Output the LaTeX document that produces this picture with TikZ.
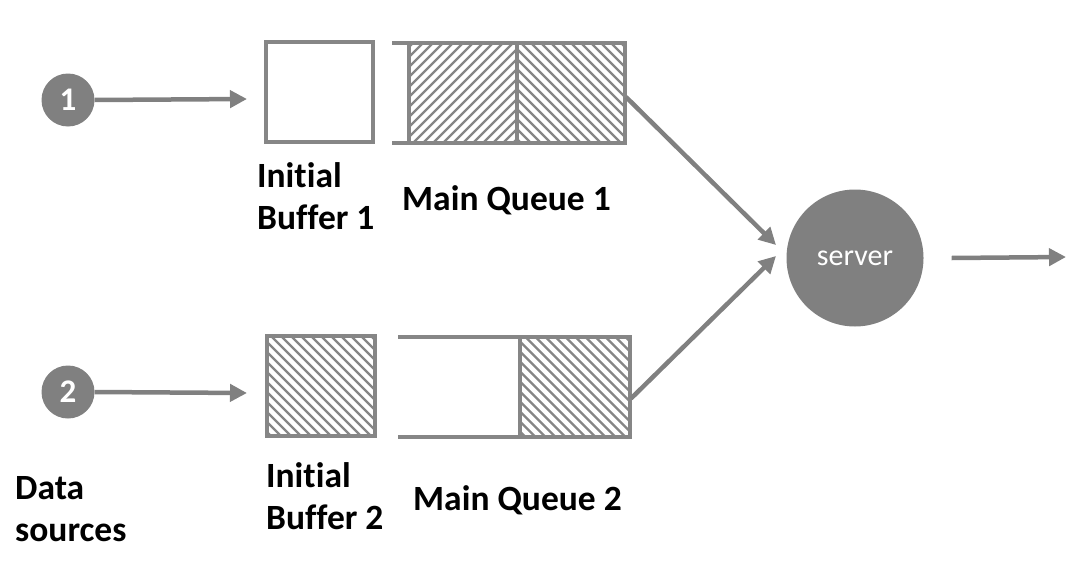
\documentclass[tikz,border=0pt]{standalone}
\usepackage{fontspec}
\setmainfont{Carlito}[Ligatures={NoCommon}]
\usetikzlibrary{arrows.meta,calc}
\definecolor{qgray}{RGB}{128,128,128}
\definecolor{hgray}{RGB}{134,134,134}
\begin{document}
\begin{tikzpicture}[x=1pt,y=-1pt,
  src/.style={circle,fill=qgray,minimum size=53pt,inner sep=0pt,text=white,font=\fontsize{33}{36}\selectfont\bfseries},
  srv/.style={circle,fill=qgray,minimum size=137pt,inner sep=0pt,text=white,font=\fontsize{30}{32}\selectfont},
  conn/.style={draw=qgray,line width=4.5pt,-{Triangle[length=17pt,width=17pt]}},
  boxline/.style={draw=hgray,line width=4pt},
  cell/.style={draw=hgray,line width=4pt,inner sep=0pt,outer sep=0pt,minimum height=100pt},
  hatchline/.style={draw=hgray,line width=2.2pt},
  hatchNE/.style={path picture={\foreach \k in {-16,...,16} \draw[hatchline] ([xshift=\k*10pt]path picture bounding box.center) ++(-90pt,-90pt) -- ++(180pt,180pt);}},
  hatchNW/.style={path picture={\foreach \k in {-16,...,16} \draw[hatchline] ([xshift=\k*10pt]path picture bounding box.center) ++(-90pt,90pt) -- ++(180pt,-180pt);}},
  lbl/.style={inner sep=0pt,anchor=base west,align=left,font=\fontsize{35.5}{42}\selectfont\bfseries}
]
\useasboundingbox (0,0) rectangle (1073,562);

% sources
\node[src] (s1) at (68,100) {1};
\node[src] (s2) at (68,392) {2};

% initial buffers
\node[cell,minimum width=107pt] (ib1) at (319.5,92) {};
\node[cell,minimum width=108pt,hatchNW] (ib2) at (320.5,385.5) {};

% main queue 1
\node[cell,minimum width=108pt,hatchNE] (mq1a) at (463,93) {};
\node[cell,minimum width=108pt,hatchNW] (mq1b) at (571,93) {};
\coordinate (q1tl) at (392,43);
\coordinate (q1bl) at (392,143);
\draw[boxline] (q1tl) -- (mq1a.north west);
\draw[boxline] (q1bl) -- (mq1a.south west);

% main queue 2
\node[cell,minimum width=110pt,hatchNW] (mq2b) at (575,386.5) {};
\coordinate (q2tl) at (398,336.5);
\coordinate (q2bl) at (398,436.5);
\draw[boxline] (q2tl) -- (mq2b.north west);
\draw[boxline] (q2bl) -- (mq2b.south west);

% server
\node[srv] (srv) at (855,258) {server};
\coordinate (out) at (1066,257);

% connectors
\coordinate (a1) at (247,99);
\coordinate (a2) at (247,393);
\draw[conn] (s1.east) -- (a1);
\draw[conn] (s2.east) -- (a2);
\coordinate (m1) at (776,245);
\coordinate (m2) at (776,256);
\draw[conn] ([xshift=1pt,yshift=-4pt]mq1b.east) -- (m1);
\draw[conn] ([xshift=1pt,yshift=-12pt]mq2b.east) -- (m2);
\draw[conn] ([xshift=28pt]srv.east) -- (out);

% labels
\node[lbl] (lib1) at (257,229) {Init\kern0pt ial\\Buffer 1};
\node[lbl] (lmq1) at (402,210) {Main Queue 1};
\node[lbl] (lib2) at (266,529) {Init\kern0pt ial\\Buffer 2};
\node[lbl] (lmq2) at (413,510) {Main Queue 2};
\node[lbl] (lds) at (15,541) {Data\\sources};
\end{tikzpicture}
\end{document}
